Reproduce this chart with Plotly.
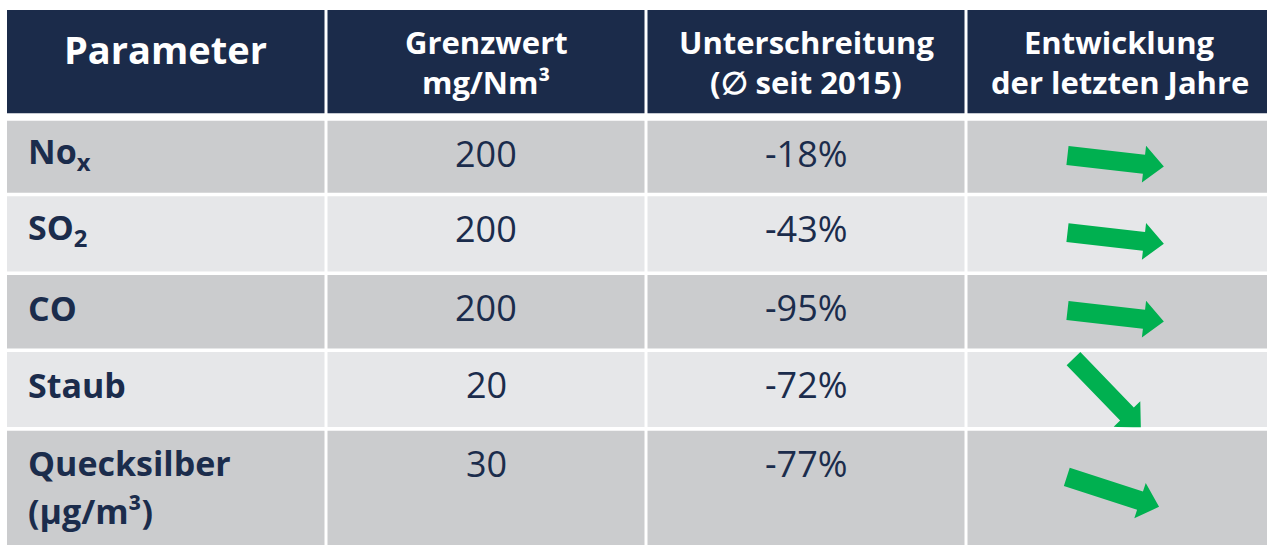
import math
import plotly.graph_objects as go

# ---------------- data ----------------
headers = ["Parameter", "Grenzwert<br>mg/Nm³", "Unterschreitung<br>(∅ seit 2015)", "Entwicklung<br>der letzten Jahre"]
parameters = ["No<sub>x</sub>", "SO<sub>2</sub>", "CO", "Staub", "Quecksilber<br>(µg/m³)"]
grenzwerte = [200, 200, 200, 20, 30]
unterschreitung_pct = [-18, -43, -95, -72, -77]
# direction of the trend arrow, degrees below horizontal
trend_angle_deg = [6.5, 6.5, 6.5, 46, 18]

# ---------------- style / layout ----------------
W, H = 1267, 545
NAVY = "#1B2B4A"
TEXT = "#1B2C4C"
DARK = "#CBCCCE"
LIGHT = "#E6E7E9"
GREEN = "#00B050"
FONT = "Open Sans"
GAP = 3

col_edges = [7, 326, 646, 966, W + 5]
header_rows = (10, 113.3)
row_spans = [(120.7, 193.3), (196.3, 272), (275, 349), (352, 427), (430.7, 548)]
row_colors = [DARK, LIGHT, DARK, LIGHT, DARK]

ARROW_LEN = 97
SHAFT_HALF = 9.5
HEAD_HALF = 18.5
HEAD_LEN = 20

fig = go.Figure()
fig.add_trace(go.Scatter(x=[0, W], y=[0, H], mode="markers",
                         marker=dict(opacity=0), hoverinfo="skip", showlegend=False))

shapes = []
annotations = []


def col_x(i):
    x0 = col_edges[i] + (GAP / 2 if i > 0 else 0)
    x1 = col_edges[i + 1] - (GAP / 2 if i < 3 else 0)
    return x0, x1


def rect(x0, x1, y0, y1, color):
    shapes.append(dict(type="rect", xref="x", yref="y", x0=x0, x1=x1, y0=y0, y1=y1,
                       fillcolor=color, line=dict(width=0), layer="above"))


def text(s, x, y, size, color, bold=False, xanchor="center"):
    annotations.append(dict(text=(f"<b>{s}</b>" if bold else s), x=x, y=y, xref="x", yref="y",
                            showarrow=False, xanchor=xanchor, yanchor="middle",
                            font=dict(family=FONT, size=size, color=color)))


def arrow_path(cx, cy, ang_deg):
    a = math.radians(ang_deg)
    ca, sa = math.cos(a), math.sin(a)
    h = ARROW_LEN / 2
    pts = [(-h, -SHAFT_HALF), (h - HEAD_LEN, -SHAFT_HALF), (h - HEAD_LEN, -HEAD_HALF),
           (h, 0), (h - HEAD_LEN, HEAD_HALF), (h - HEAD_LEN, SHAFT_HALF), (-h, SHAFT_HALF)]
    xy = [(cx + u * ca - v * sa, cy + u * sa + v * ca) for u, v in pts]
    return "M " + " L ".join(f"{x:.2f},{y:.2f}" for x, y in xy) + " Z"


# header
for i, htxt in enumerate(headers):
    x0, x1 = col_x(i)
    rect(x0, x1, header_rows[0], header_rows[1], NAVY)
    cx = (x0 + x1) / 2
    lines = htxt.split("<br>")
    if len(lines) == 1:
        text(lines[0], cx, 48.5, 38, "white", bold=True)
    else:
        for k, ln in enumerate(lines):
            text(ln, cx, 41.5 + k * 40.7, 31, "white", bold=True)

# body
for r in range(len(parameters)):
    y0, y1 = row_spans[r]
    # white gap above the row (clips anything from the row above)
    rect(0, W, y0 - GAP - 0.5, y1, "white")
    for i in range(4):
        x0, x1 = col_x(i)
        rect(x0, x1, y0, y1, row_colors[r])
    ty = y0 + 32.5
    for k, ln in enumerate(parameters[r].split("<br>")):
        text(ln, 26, ty + k * 48, 34, TEXT, bold=True, xanchor="left")
    c1 = sum(col_x(1)) / 2
    c2 = sum(col_x(2)) / 2
    text(str(grenzwerte[r]), c1, ty, 36, TEXT)
    text(f"{unterschreitung_pct[r]}%", c2, ty, 36, TEXT)
    # trend arrow
    ax0, ax1 = col_x(3)
    ang = trend_angle_deg[r]
    acx = (ax0 + ax1 - 5) / 2 - 14 * math.sin(math.radians(ang))
    acy = (y0 + min(y1, H)) / 2 + 4
    shapes.append(dict(type="path", xref="x", yref="y", path=arrow_path(acx, acy, ang),
                       fillcolor=GREEN, line=dict(width=0), layer="above"))

fig.update_layout(
    width=W, height=H,
    margin=dict(l=0, r=0, t=0, b=0),
    paper_bgcolor="white", plot_bgcolor="white",
    xaxis=dict(range=[0, W], visible=False, fixedrange=True),
    yaxis=dict(range=[H, 0], visible=False, fixedrange=True),
    shapes=shapes, annotations=annotations, showlegend=False,
)

fig.write_html("out.html", config={"displayModeBar": False},
               post_script="document.body.style.margin='0';document.body.style.overflow='hidden';")
